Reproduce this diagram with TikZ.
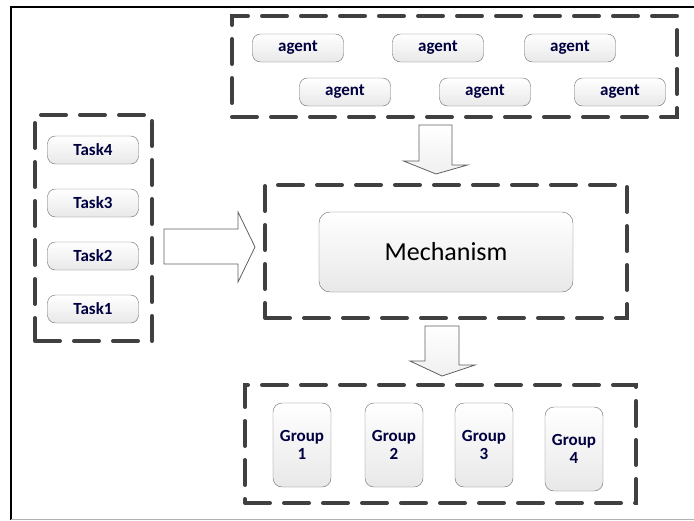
\documentclass[tikz,border=0pt]{standalone}
\usepackage{fontspec}
\setmainfont{Carlito}
\usetikzlibrary{calc}

\tikzset{
  pill/.style={draw=gray!85!black, rounded corners=8pt, top color=white, bottom color=gray!18,
    font=\fontsize{17}{18}\selectfont\bfseries, text=blue!25!black, inner sep=0pt,
    minimum width=91pt, minimum height=28pt},
  grp/.style={pill, minimum width=58pt, minimum height=84pt, align=center, rounded corners=9pt},
  dashbox/.style={draw=black!75, line width=4pt, dash pattern=on 25pt off 14pt, line cap=round,
    inner sep=0pt},
  blockarrow/.style={draw=gray!75!black, line width=0.8pt, top color=white, bottom color=gray!12},
}

\begin{document}
\begin{tikzpicture}[x=1pt,y=-1pt]
  \useasboundingbox (0,0) rectangle (694,520);
  % page frame
  \draw[line width=1.6pt] (694,7) -- (11,7) -- (11,520);
  \draw[gray!60, line width=1pt] (11,519) -- (694,519);

  % agents
  \node[dashbox, minimum width=445pt, minimum height=101pt] (agents) at (454.5,66.5) {};
  \foreach \x/\y [count=\i] in {298/48, 438/48, 570/48, 345/92, 485/92, 620/92}
    \node[pill] (agent\i) at (\x,\y) {agent};

  % tasks
  \node[dashbox, minimum width=117pt, minimum height=226pt] (tasks) at (93.5,228) {};
  \foreach \n/\y in {4/150, 3/203, 2/256, 1/309}
    \node[pill] (task\n) at (93,\y) {Task\n};

  % mechanism
  \node[dashbox, minimum width=362pt, minimum height=133pt] (mechbox) at (446,251.5) {};
  \node[pill, minimum width=254pt, minimum height=80pt, rounded corners=11pt,
    font=\fontsize{26}{28}\selectfont, text=black] (mech) at (446,252) {Mechanism};

  % groups
  \node[dashbox, minimum width=391pt, minimum height=118pt] (groups) at (440.5,444) {};
  \foreach \x/\y [count=\i] in {302/445, 394/445, 484/445, 574/449}
    \node[grp] (group\i) at (\x,\y) {Group\\\i};

  % block arrows
  \draw[draw=gray!75!black, line width=0.8pt, fill=white]
    ($(tasks.east)+(10,1)$) -- ++(74,0) -- ++(0,-17) -- ($(mechbox.west)+(-8,-4.5)$)
    -- ($(tasks.east)+(84,54)$) -- ++(0,-18) -- ++(-74,0) -- cycle;
  \draw[blockarrow]
    ($(agents.south)+(-35.5,6)$) -- ++(33,0) -- ++(0,40) -- ++(15.5,0)
    -- ($(mechbox.north)+(-10,-9)$) -- ++(-32.5,-13) -- ++(15.5,0) -- cycle;
  \draw[blockarrow]
    ($(mechbox.south)+(-21,6)$) -- ++(34,0) -- ++(0,39) -- ++(16,0)
    -- ($(groups.north)+(1.5,-7)$) -- ++(-32,-15) -- ++(15,0) -- cycle;
\end{tikzpicture}
\end{document}
